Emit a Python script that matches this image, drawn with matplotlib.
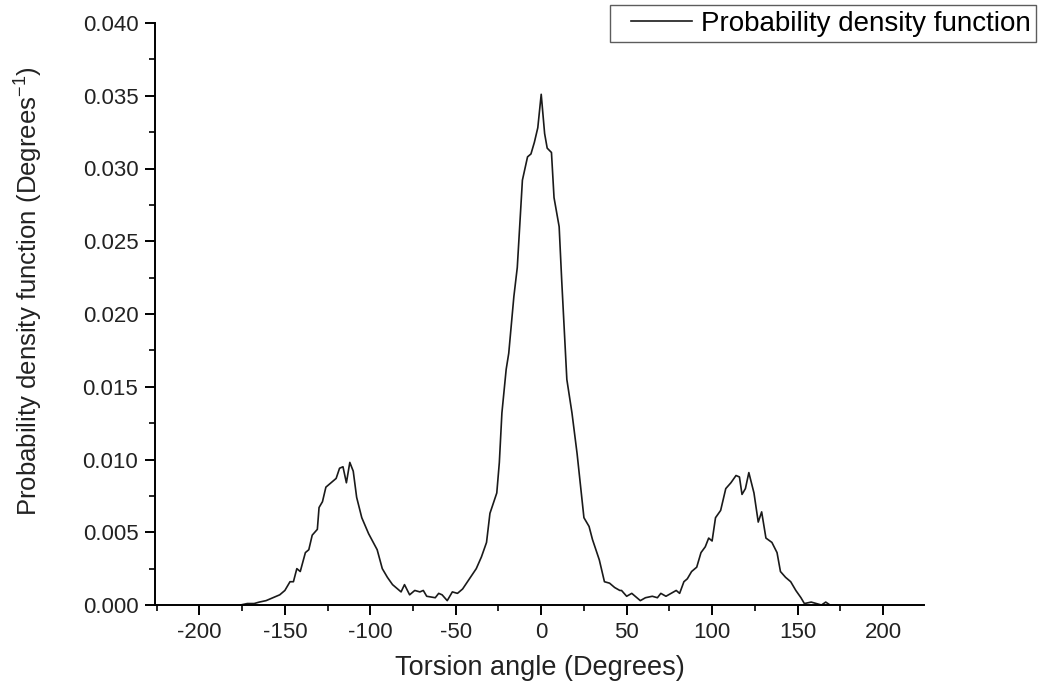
import matplotlib
matplotlib.use("Agg")
import numpy as np
import matplotlib.pyplot as plt
from matplotlib.ticker import MultipleLocator, FormatStrFormatter
from matplotlib.legend_handler import HandlerLine2D

plt.rcParams['font.family'] = ['Liberation Sans', 'DejaVu Sans']
plt.rcParams['mathtext.default'] = 'regular'
plt.rcParams['axes.unicode_minus'] = False

# torsion angle (degrees) and probability density
angle = [-176, -172, -168, -165, -161, -157, -153, -150, -147, -145,
         -143, -141, -138, -136, -134, -131, -130, -128, -126, -123,
         -120, -118, -116, -114, -112, -110, -108, -105, -101, -96,
         -93, -90, -87, -85, -82, -80, -77, -74, -71, -69,
         -67, -62, -60, -58, -55, -52, -49, -46, -42, -38,
         -35, -32, -30, -26, -24.5, -23, -20.5, -19, -16, -14,
         -11, -8, -6, -4, -2, 0, 2, 3.5, 6, 7.5,
         10.5, 12, 15, 18, 21, 25, 28, 30, 34, 37,
         40, 43, 46, 47, 50, 53, 55, 58, 61, 65,
         68, 70, 73, 76, 79, 81, 83.5, 85.5, 88, 91,
         93.5, 96, 98, 100, 102, 105, 108, 111, 114, 116,
         117.5, 119.5, 121.5, 124.5, 127, 129, 131.5, 135, 138, 140,
         143, 146, 149, 152, 154, 158, 161, 164, 166.5, 169, 173]
pdf = [0.0000, 0.0001, 0.0001, 0.0002, 0.0003, 0.0005, 0.0007, 0.0010, 0.0016, 0.0016,
       0.0025, 0.0023, 0.0036, 0.0038, 0.0048, 0.0052, 0.0067, 0.0071, 0.0081, 0.0084,
       0.0087, 0.0094, 0.0095, 0.0084, 0.0098, 0.0092, 0.0074, 0.0060, 0.0049, 0.0038,
       0.0025, 0.0019, 0.0014, 0.0012, 0.0009, 0.0014, 0.0007, 0.0010, 0.0009, 0.0010,
       0.0006, 0.0005, 0.0008, 0.0007, 0.0003, 0.0009, 0.0008, 0.0011, 0.0018, 0.0025,
       0.0033, 0.0043, 0.0063, 0.0077, 0.0098, 0.0132, 0.0162, 0.0173, 0.0212, 0.0232,
       0.0292, 0.0308, 0.0310, 0.0318, 0.0328, 0.0351, 0.0324, 0.0314, 0.0311, 0.0280,
       0.0260, 0.0223, 0.0155, 0.0132, 0.0104, 0.0060, 0.0054, 0.0045, 0.0031, 0.0016,
       0.0015, 0.0012, 0.0010, 0.0010, 0.0006, 0.0008, 0.0006, 0.0003, 0.0005, 0.0006,
       0.0005, 0.0008, 0.0006, 0.0008, 0.0010, 0.0008, 0.0016, 0.0018, 0.0023, 0.0026,
       0.0036, 0.0040, 0.0046, 0.0044, 0.0060, 0.0065, 0.0080, 0.0084, 0.0089, 0.0088,
       0.0076, 0.0080, 0.0091, 0.0077, 0.0057, 0.0064, 0.0046, 0.0043, 0.0036, 0.0023,
       0.0019, 0.0016, 0.0010, 0.0005, 0.0001, 0.0002, 0.0001, 0.0000, 0.0002, 0.0000, 0.0000]


class IndentLine(HandlerLine2D):
    # legend line that leaves a gap on its left, like the Origin legend
    def create_artists(self, legend, orig_handle, xdescent, ydescent,
                       width, height, fontsize, trans):
        arts = super().create_artists(legend, orig_handle, xdescent, ydescent,
                                      width, height, fontsize, trans)
        for a in arts:
            xd = np.array(a.get_xdata(), dtype=float)
            if len(xd) >= 2:
                xd[0] = xd[0] + 0.2 * width
                a.set_xdata(xd)
        return arts


fig = plt.figure(figsize=(10.42, 6.96), dpi=100)
ax = fig.add_axes([155 / 1042, 91 / 696, 769 / 1042, 582 / 696])

line, = ax.plot(angle, pdf, color='#1a1a1a', lw=1.2, label='Probability density function')

ax.set_xlim(-226, 224)
ax.set_ylim(0, 0.040)
ax.xaxis.set_major_locator(MultipleLocator(50))
ax.xaxis.set_minor_locator(MultipleLocator(25))
ax.yaxis.set_major_locator(MultipleLocator(0.005))
ax.yaxis.set_minor_locator(MultipleLocator(0.0025))
ax.yaxis.set_major_formatter(FormatStrFormatter('%.3f'))

for s in ['top', 'right']:
    ax.spines[s].set_visible(False)
for s in ['left', 'bottom']:
    ax.spines[s].set_linewidth(1.4)
ax.tick_params(which='major', direction='out', length=7, width=1.4,
               labelsize=16, pad=5, labelcolor='#222222')
ax.tick_params(which='minor', direction='out', length=4, width=1.2)

ax.set_xlabel('Torsion angle (Degrees)', fontsize=19.5, labelpad=9, color='#222222')
ax.set_ylabel('Probability density function (Degrees$^{-1}$)', fontsize=18.5,
              color='#222222')
ax.yaxis.set_label_coords(-0.143, 0.54)

fig.legend(handles=[line], loc='upper right', bbox_to_anchor=(1036 / 1042, 1 - 5 / 696),
           fontsize=20, frameon=True, fancybox=False, edgecolor='#333333',
           handlelength=2.75, borderpad=0.2, handletextpad=0.32, borderaxespad=0,
           handler_map={line: IndentLine()})

fig.savefig('out.png', dpi=100)
